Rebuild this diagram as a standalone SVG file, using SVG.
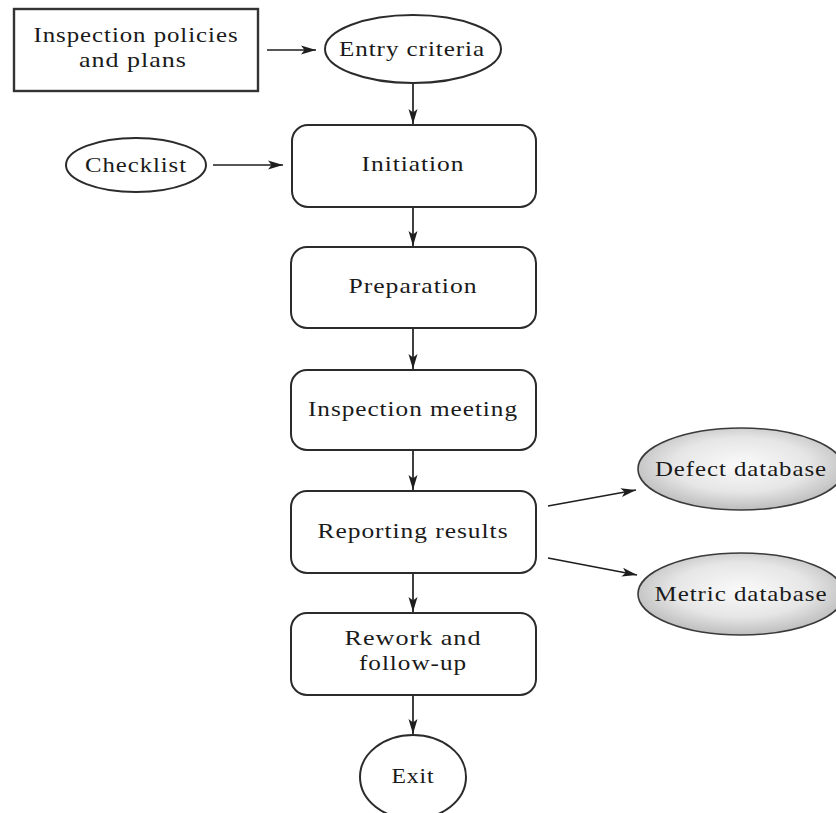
<svg xmlns="http://www.w3.org/2000/svg" width="836" height="813" viewBox="0 0 836 813">
  <defs>
    <style>
      text { font-family: "Liberation Serif", "Times New Roman", serif; font-size: 21px; letter-spacing: 0.8px; fill: #1a1a1a; text-anchor: middle; }
      .box { fill: #ffffff; stroke: #2b2b2b; stroke-width: 2; }
      .plain { fill: #ffffff; stroke: #333333; stroke-width: 2.4; }
      .oval { fill: #ffffff; stroke: #2b2b2b; stroke-width: 2; }
      .db { fill: url(#dbFill); stroke: #3a3a3a; stroke-width: 1.6; }
      .edge { fill: none; stroke: #1e1e1e; stroke-width: 1.7; marker-end: url(#arrow); }
    </style>
    <radialGradient id="dbFill" cx="50%" cy="45%" r="55%">
      <stop offset="0" stop-color="#fafafa"/>
      <stop offset="0.6" stop-color="#e6e6e6"/>
      <stop offset="1" stop-color="#bdbdbd"/>
    </radialGradient>
    <marker id="arrow" markerUnits="userSpaceOnUse" markerWidth="16" markerHeight="12" refX="15" refY="6" orient="auto">
      <path d="M0,1.5 L15,6 L0,10.5 L3.5,6 z" fill="#1e1e1e"/>
    </marker>
  </defs>

  <!-- connectors -->
  <g id="connectors">
    <path class="edge" d="M267,50 L316,50"/>
    <path class="edge" d="M213,165 L283,165"/>
    <path class="edge" d="M413,83 L413,124"/>
    <path class="edge" d="M413,207 L413,246"/>
    <path class="edge" d="M413,328 L413,369"/>
    <path class="edge" d="M413,450 L413,490"/>
    <path class="edge" d="M413,573 L413,612"/>
    <path class="edge" d="M413,695 L413,734"/>
    <path class="edge" d="M548,506 L636,490"/>
    <path class="edge" d="M548,558 L637,575"/>
  </g>

  <!-- nodes -->
  <g id="policies">
    <rect class="plain" x="14" y="9" width="244" height="82"/>
    <text x="136" y="42" textLength="205" lengthAdjust="spacingAndGlyphs">Inspection policies</text>
    <text x="133" y="67" textLength="108" lengthAdjust="spacingAndGlyphs">and plans</text>
  </g>
  <g id="entry">
    <ellipse class="oval" cx="413" cy="49" rx="88" ry="34"/>
    <text x="412" y="56" textLength="146" lengthAdjust="spacingAndGlyphs">Entry criteria</text>
  </g>
  <g id="checklist">
    <ellipse class="oval" cx="136" cy="165" rx="70" ry="27"/>
    <text x="136" y="172" textLength="102" lengthAdjust="spacingAndGlyphs">Checklist</text>
  </g>
  <g id="initiation">
    <rect class="box" x="292" y="125" width="244" height="82" rx="16"/>
    <text x="413" y="171" textLength="103" lengthAdjust="spacingAndGlyphs">Initiation</text>
  </g>
  <g id="preparation">
    <rect class="box" x="291" y="247" width="245" height="81" rx="16"/>
    <text x="413" y="293" textLength="129" lengthAdjust="spacingAndGlyphs">Preparation</text>
  </g>
  <g id="meeting">
    <rect class="box" x="291" y="370" width="245" height="80" rx="16"/>
    <text x="413" y="416" textLength="210" lengthAdjust="spacingAndGlyphs">Inspection meeting</text>
  </g>
  <g id="reporting">
    <rect class="box" x="291" y="491" width="245" height="82" rx="16"/>
    <text x="413" y="538" textLength="191" lengthAdjust="spacingAndGlyphs">Reporting results</text>
  </g>
  <g id="rework">
    <rect class="box" x="291" y="613" width="245" height="82" rx="16"/>
    <text x="413" y="645" textLength="137" lengthAdjust="spacingAndGlyphs">Rework and</text>
    <text x="413" y="670" textLength="108" lengthAdjust="spacingAndGlyphs">follow-up</text>
  </g>
  <g id="exit">
    <ellipse class="oval" cx="413" cy="777" rx="53" ry="42"/>
    <text x="413" y="783" textLength="43" lengthAdjust="spacingAndGlyphs">Exit</text>
  </g>
  <g id="defect-db">
    <ellipse class="db" cx="741" cy="469" rx="103" ry="41"/>
    <text x="741" y="476" textLength="172" lengthAdjust="spacingAndGlyphs">Defect database</text>
  </g>
  <g id="metric-db">
    <ellipse class="db" cx="741" cy="594" rx="103" ry="41"/>
    <text x="741" y="601" textLength="173" lengthAdjust="spacingAndGlyphs">Metric database</text>
  </g>
</svg>
